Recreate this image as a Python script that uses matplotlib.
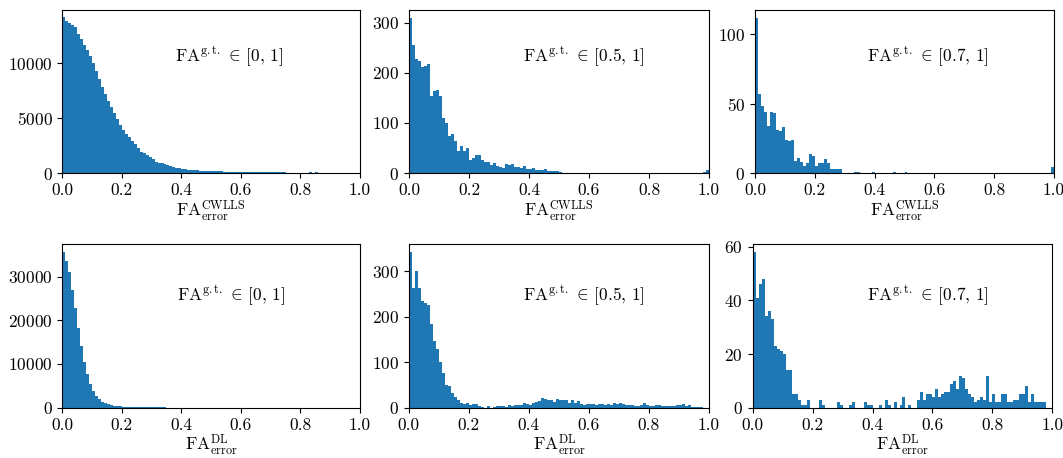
import numpy as np
import matplotlib
matplotlib.use("Agg")
import matplotlib.pyplot as plt

plt.rcParams['font.family'] = 'serif'
plt.rcParams['font.serif'] = ['cmr10']
plt.rcParams['mathtext.fontset'] = 'cm'
plt.rcParams['axes.unicode_minus'] = False
plt.rcParams['axes.formatter.use_mathtext'] = True

# ---- data: counts per bin (100 bins of width 0.01 on [0, 1]) ----
bin_edges = np.linspace(0.0, 1.0, 101)

cwlls_all = [14200, 13900, 13700, 13500, 13300, 12700, 12200, 11700, 11200, 10700,
             10000, 9300, 8600, 7850, 7200, 6550, 6000, 5450, 4900, 4350,
             3900, 3550, 3250, 2900, 2600, 2250, 1950, 1780, 1650, 1450,
             1250, 1000, 950, 880, 780, 700, 620, 540, 490, 440,
             400, 360, 310, 280, 260, 240, 220, 200, 190, 180,
             170, 160, 150, 140, 130, 120, 115, 110, 105, 100,
             95, 90, 85, 80, 100, 75, 70, 65, 60, 58,
             55, 52, 50, 48, 46, 44, 42, 40, 38, 36,
             35, 34, 40, 60, 25, 50, 0, 0, 0, 0,
             0, 0, 0, 0, 0, 0, 0, 0, 0, 0]

cwlls_05 = [310, 256, 227, 223, 212, 213, 217, 154, 164, 166,
            153, 109, 100, 73, 78, 63, 43, 54, 43, 49,
            25, 30, 36, 36, 25, 21, 21, 15, 19, 13,
            11, 10, 17, 15, 17, 12, 11, 10, 13, 8,
            7, 9, 6, 5, 5, 8, 3, 4, 4, 3,
            2, 0, 0, 0, 0, 0, 0, 0, 0, 0,
            0, 0, 0, 0, 0, 0, 0, 0, 0, 0,
            0, 0, 0, 0, 0, 0, 0, 0, 0, 0,
            0, 0, 0, 0, 0, 0, 0, 0, 0, 0,
            0, 0, 0, 0, 0, 0, 0, 0, 2, 5]

cwlls_07 = [112, 57, 48, 44, 34, 44, 43, 31, 30, 33,
            24, 23, 24, 9, 11, 8, 5, 7, 14, 12,
            5, 7, 7, 10, 7, 3, 3, 3, 3, 0,
            0, 0, 0, 1, 1, 0, 0, 0, 0, 1,
            0, 0, 0, 0, 0, 0, 1, 0, 0, 0,
            1, 0, 0, 0, 0, 0, 0, 0, 0, 0,
            0, 0, 0, 0, 0, 0, 0, 0, 0, 0,
            0, 0, 0, 0, 0, 0, 0, 0, 0, 0,
            0, 0, 0, 0, 0, 0, 0, 0, 0, 0,
            0, 0, 0, 0, 0, 0, 0, 0, 0, 4]

dl_all = [35600, 33600, 31000, 27000, 22700, 18300, 14200, 10400, 7700, 5340,
          3740, 2750, 1900, 1300, 1000, 760, 600, 460, 380, 300,
          230, 200, 170, 150, 130, 120, 110, 100, 95, 90,
          80, 75, 70, 60, 50, 0, 0, 0, 0, 0,
          0, 0, 0, 0, 0, 0, 0, 0, 0, 0,
          0, 0, 0, 0, 0, 0, 0, 0, 0, 0,
          0, 0, 0, 0, 0, 0, 0, 0, 0, 0,
          0, 0, 0, 0, 0, 0, 0, 0, 0, 0,
          0, 0, 0, 0, 0, 0, 0, 0, 0, 0,
          0, 0, 0, 0, 0, 0, 0, 0, 0, 0]

dl_05 = [342, 263, 300, 264, 234, 229, 225, 184, 146, 130,
         100, 76, 49, 48, 32, 24, 18, 11, 9, 10,
         7, 9, 8, 4, 2, 0, 4, 0, 2, 3,
         3, 3, 2, 5, 4, 6, 5, 6, 11, 8,
         5, 10, 12, 15, 22, 20, 17, 17, 13, 20,
         18, 17, 17, 10, 18, 10, 14, 8, 6, 9,
         8, 8, 7, 8, 8, 7, 8, 6, 10, 9,
         10, 8, 6, 5, 5, 4, 4, 5, 11, 7,
         3, 3, 5, 5, 3, 3, 3, 3, 4, 5,
         5, 8, 3, 5, 2, 2, 2, 2, 0, 0]

dl_07 = [58, 41, 46, 48, 34, 36, 33, 23, 22, 21,
         20, 14, 14, 5, 5, 3, 1, 1, 3, 0,
         0, 0, 3, 1, 0, 0, 0, 0, 2, 1,
         0, 0, 1, 2, 0, 0, 0, 2, 1, 1,
         0, 0, 1, 0, 3, 1, 0, 2, 0, 1,
         4, 0, 1, 0, 0, 3, 6, 3, 5, 5,
         4, 7, 4, 5, 6, 6, 9, 10, 7, 12,
         11, 7, 5, 4, 2, 3, 4, 3, 12, 2,
         5, 2, 2, 5, 5, 2, 2, 3, 3, 5,
         5, 8, 2, 5, 2, 2, 2, 2, 0, 0]

range_labels = [r'[0,\,1]', r'[0.5,\,1]', r'[0.7,\,1]',
                r'[0,\,1]', r'[0.5,\,1]', r'[0.7,\,1]']
method_labels = ['CWLLS', 'CWLLS', 'CWLLS', 'DL', 'DL', 'DL']
yticks_list = [[0, 5000, 10000], [0, 100, 200, 300], [0, 50, 100],
               [0, 10000, 20000, 30000], [0, 100, 200, 300], [0, 20, 40, 60]]
xtick_vals = [0.0, 0.2, 0.4, 0.6, 0.8, 1.0]
xtick_labels = ['0.0', '0.2', '0.4', '0.6', '0.8', '1.0']

series = [cwlls_all, cwlls_05, cwlls_07, dl_all, dl_05, dl_07]

# ---- layout ----
W, H = 1063, 458
fig = plt.figure(figsize=(W / 100, H / 100), dpi=100)

boxes_px = [  # left, right, top, bottom in pixels
    (62.3, 360.0, 9.5, 173.0),
    (409.0, 709.0, 9.8, 173.0),
    (755.0, 1054.0, 9.8, 173.0),
    (62.3, 360.0, 244.3, 407.7),
    (408.7, 709.0, 244.3, 407.7),
    (752.7, 1052.3, 244.3, 407.7),
]
text_pos = [(0.56, 0.71), (0.583, 0.71), (0.579, 0.71),
            (0.567, 0.684), (0.584, 0.684), (0.584, 0.684)]

centers = 0.5 * (bin_edges[:-1] + bin_edges[1:])
for i, (l, r, t, b) in enumerate(boxes_px):
    ax = fig.add_axes([l / W, (H - b) / H, (r - l) / W, (b - t) / H])
    ax.hist(centers, bins=bin_edges, weights=np.array(series[i], dtype=float),
            color='#1f77b4')
    ax.set_xlim(0, 1)
    ax.set_xticks(xtick_vals)
    ax.set_xticklabels(xtick_labels)
    ax.set_yticks(yticks_list[i])
    ax.tick_params(labelsize=12.5)
    ax.set_xlabel(r'$\mathrm{FA}^{\mathrm{%s}}_{\mathrm{error}}$' % method_labels[i],
                  fontsize=12.5, labelpad=0)
    ax.text(text_pos[i][0], text_pos[i][1],
            r'$\mathrm{FA}^{\mathrm{g.t.}}\,\in\,%s$' % range_labels[i],
            transform=ax.transAxes, ha='center', va='center', fontsize=12.5)

fig.savefig('out.png', dpi=100)
